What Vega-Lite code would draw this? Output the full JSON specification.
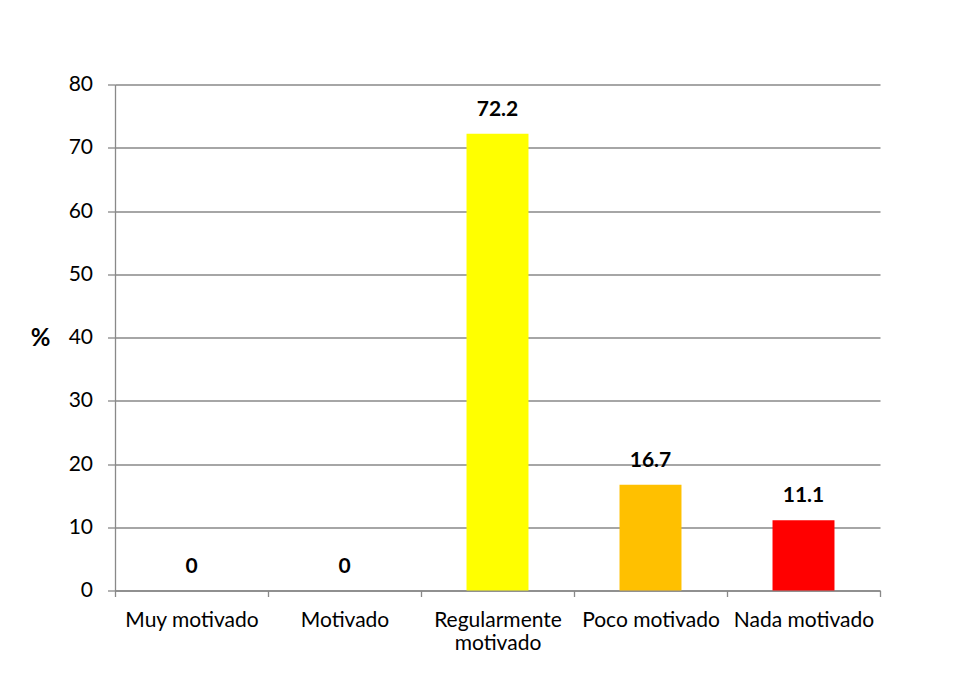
{
  "$schema": "https://vega.github.io/schema/vega-lite/v6.json",
  "width": 765,
  "height": 506,
  "autosize": {"type": "none"},
  "padding": {"left": 115, "top": 84.5, "right": 76, "bottom": 103.5},
  "background": "white",
  "config": {
    "view": {"stroke": null},
    "font": "Lato",
    "axis": {"labelFont": "Lato", "titleFont": "Lato", "labelColor": "#000000", "titleColor": "#000000"}
  },
  "data": {
    "values": [
      {"nivel": "Muy motivado", "porcentaje": 0},
      {"nivel": "Motivado", "porcentaje": 0},
      {"nivel": "Regularmente motivado", "porcentaje": 72.2},
      {"nivel": "Poco motivado", "porcentaje": 16.7},
      {"nivel": "Nada motivado", "porcentaje": 11.1}
    ]
  },
  "encoding": {
    "x": {
      "field": "nivel",
      "type": "nominal",
      "sort": null,
      "scale": {"paddingInner": 0, "paddingOuter": 0},
      "axis": {
        "title": null,
        "labelAngle": 0,
        "labelOverlap": false,
        "tickBand": "extent",
        "tickSize": 6,
        "tickColor": "#898989",
        "tickWidth": 1.3,
        "domainColor": "#898989",
        "domainWidth": 1.3,
        "labelFontSize": 21,
        "labelBaseline": "alphabetic",
        "labelPadding": 29.5,
        "labelLineHeight": 23,
        "labelExpr": "datum.label == 'Regularmente motivado' ? ['Regularmente', 'motivado'] : datum.label"
      }
    },
    "y": {
      "field": "porcentaje",
      "type": "quantitative",
      "scale": {"domain": [0, 80], "nice": false},
      "axis": {
        "values": [0, 10, 20, 30, 40, 50, 60, 70, 80],
        "grid": true,
        "gridColor": "#898989",
        "gridWidth": 1.3,
        "domainColor": "#898989",
        "domainWidth": 1.3,
        "tickColor": "#898989",
        "tickWidth": 1.3,
        "tickSize": 7.5,
        "labelPadding": 15,
        "labelFontSize": 21,
        "title": "%",
        "titleAngle": 0,
        "titleFontSize": 24,
        "titleFontWeight": "bold",
        "titleX": -75,
        "titleY": 253.5,
        "titleAlign": "center",
        "titleBaseline": "middle"
      }
    }
  },
  "layer": [
    {
      "mark": {"type": "bar", "width": {"band": 0.405}},
      "encoding": {
        "color": {
          "field": "nivel",
          "type": "nominal",
          "scale": {
            "domain": ["Muy motivado", "Motivado", "Regularmente motivado", "Poco motivado", "Nada motivado"],
            "range": ["#4F81BD", "#9BBB59", "#FFFF00", "#FFC000", "#FF0000"]
          },
          "legend": null
        }
      }
    },
    {
      "mark": {"type": "text", "baseline": "alphabetic", "dy": -18, "fontWeight": "bold", "fontSize": 21, "font": "Lato", "color": "#000000"},
      "encoding": {
        "text": {"field": "porcentaje", "type": "quantitative", "format": ".1~f"}
      }
    }
  ]
}
